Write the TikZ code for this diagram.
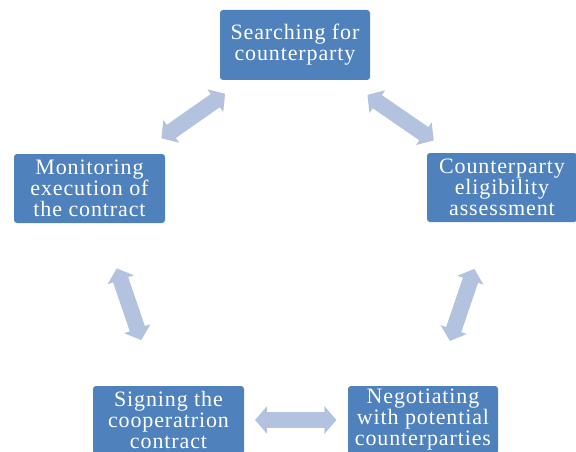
\documentclass[tikz,border=0pt]{standalone}
\usepackage{fontspec}
\setmainfont{Liberation Serif}
\newfontfamily\stagefont[LetterSpace=4]{Liberation Serif}
\usepackage{xcolor}
\usetikzlibrary{arrows.meta, calc}
\definecolor{cycblue}{HTML}{4F81BD}
\definecolor{cycarrow}{HTML}{B3C3DF}

\begin{document}
\begin{tikzpicture}[x=1pt, y=-1pt,
  stage/.style={rectangle, rounded corners=3pt, fill=cycblue, draw=none,
    text=white, align=center, inner sep=0pt,
    font=\stagefont\fontsize{22}{21}\selectfont},
  twoway/.style={draw=cycarrow, line width=16pt,
    {Triangle[length=12pt, width=27pt]}-{Triangle[length=12pt, width=27pt]}}
]
  \useasboundingbox (0,0) rectangle (576,452);
  \node[stage, minimum width=150pt, minimum height=70pt] (search)
    at (295,45) {Searching for\\counterparty};
  \node[stage, minimum width=151pt, minimum height=69pt] (monitor)
    at (89.5,188.5) {Monitoring\\execution of\\the contract};
  \node[stage, minimum width=150pt, minimum height=69pt] (assess)
    at (502,187.5) {Counterparty\\eligibility\\assessment};
  \node[stage, minimum width=151pt, minimum height=68pt] (sign)
    at (168.5,420) {Signing the\\cooperatrion\\contract};
  \node[stage, minimum width=150pt, minimum height=68pt] (negot)
    at (423,420) {Negotiating\\with potential\\counterparties};
  % two-way arrows round the cycle
  \draw[twoway] ($(monitor)!0.35!(search)$) -- ($(monitor)!0.66!(search)$);
  \draw[twoway] ($(search)!0.35!(assess)$) -- ($(search)!0.67!(assess)$);
  \draw[twoway] ($(assess)!0.35!(negot)$) -- ($(assess)!0.66!(negot)$);
  \draw[twoway] ($(negot)!0.34!(sign)$) -- ($(negot)!0.66!(sign)$);
  \draw[twoway] ($(sign)!0.345!(monitor)$) -- ($(sign)!0.655!(monitor)$);
\end{tikzpicture}
\end{document}
